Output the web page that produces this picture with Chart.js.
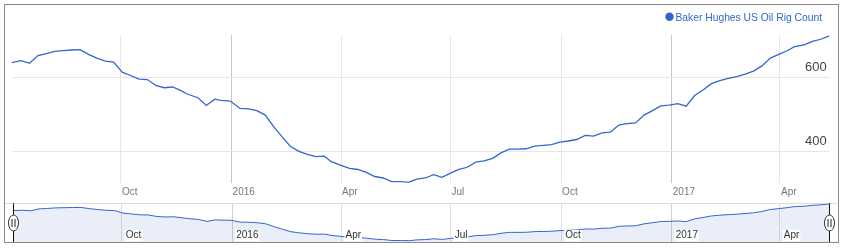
<!DOCTYPE html>
<html><head><meta charset="utf-8">
<script src="https://cdn.jsdelivr.net/npm/chart.js@4.4.1/dist/chart.umd.min.js"></script>
<style>
html,body{margin:0;padding:0;background:#fff;}
#wrap{position:relative;width:844px;height:248px;overflow:hidden;background:#fff;}
#frame{position:absolute;left:4px;top:4px;width:833px;height:237px;border:1px solid #8a8a8a;pointer-events:none;}
#main{position:absolute;left:0;top:0;}
#nav{position:absolute;left:0;top:200px;}
</style></head><body>
<div id="wrap">
<canvas id="main" width="844" height="200"></canvas>
<canvas id="nav" width="844" height="44"></canvas>
<div id="frame"></div>
</div>
<script>
// ---- data (weekly Baker Hughes US oil rig count) ----
const dates2015 = ['2015-07-02','2015-07-10','2015-07-17','2015-07-24','2015-07-31','2015-08-07','2015-08-14','2015-08-21','2015-08-28','2015-09-04','2015-09-11','2015-09-18','2015-09-25','2015-10-02','2015-10-09','2015-10-16','2015-10-23','2015-10-30','2015-11-06','2015-11-13','2015-11-20','2015-11-25','2015-12-04','2015-12-11','2015-12-18','2015-12-23','2015-12-31'];
const counts2015 = [640,645,638,659,664,670,672,674,675,662,652,644,641,614,605,595,594,578,572,574,564,555,545,524,541,538,536];
const dates2016 = ['2016-01-08','2016-01-15','2016-01-22','2016-01-29','2016-02-05','2016-02-12','2016-02-19','2016-02-26','2016-03-04','2016-03-11','2016-03-18','2016-03-24','2016-04-01','2016-04-08','2016-04-15','2016-04-22','2016-04-29','2016-05-06','2016-05-13','2016-05-20','2016-05-27','2016-06-03','2016-06-10','2016-06-17','2016-06-24','2016-07-01','2016-07-08','2016-07-15','2016-07-22','2016-07-29','2016-08-05','2016-08-12','2016-08-19','2016-08-26','2016-09-02','2016-09-09','2016-09-16','2016-09-23','2016-09-30','2016-10-07','2016-10-14','2016-10-21','2016-10-28','2016-11-04','2016-11-11','2016-11-18','2016-11-23','2016-12-02','2016-12-09','2016-12-16','2016-12-23','2016-12-30'];
const counts2016 = [516,515,510,498,467,439,413,400,392,386,387,372,362,354,351,343,332,328,318,318,316,325,328,337,330,341,351,357,371,374,381,396,406,406,407,414,416,418,425,428,432,443,441,450,452,471,474,477,498,510,523,525];
const dates2017 = ['2017-01-06','2017-01-13','2017-01-20','2017-01-27','2017-02-03','2017-02-10','2017-02-17','2017-02-24','2017-03-03','2017-03-10','2017-03-17','2017-03-24','2017-03-31','2017-04-07','2017-04-13','2017-04-21','2017-04-28','2017-05-05','2017-05-12'];
const counts2017 = [529,522,551,566,583,591,597,602,609,617,631,652,662,672,683,688,697,703,712];
const tickDates = ['2015-10-01','2016-01-01','2016-04-01','2016-07-01','2016-10-01','2017-01-01','2017-04-01'];
const tickLabels = ['Oct','2016','Apr','Jul','Oct','2017','Apr'];
const yTicks = [400, 600];
const seriesName = 'Baker Hughes US Oil Rig Count';

// ---- build ----
const dates = dates2015.concat(dates2016, dates2017);
const counts = counts2015.concat(counts2016, counts2017);
const dayNum = s => { const p = s.split('-').map(Number); return Date.UTC(p[0], p[1]-1, p[2]) / 864e5; };
const pts = dates.map((d, i) => ({x: dayNum(d), y: counts[i]}));
const xMin = dayNum(dates[0]), xMax = dayNum(dates[dates.length-1]);
const tickVals = tickDates.map(dayNum);
const isYear = tickLabels.map(l => /^\d{4}$/.test(l));
const FONT = '"Liberation Sans", Arial, sans-serif';
const LINE = '#3366cc';

const mainLabels = {
  id: 'mainLabels',
  afterDraw(chart) {
    const ctx = chart.ctx, xs = chart.scales.x, ys = chart.scales.y, a = chart.chartArea;
    ctx.save();
    // y labels
    ctx.font = '13px ' + FONT; ctx.fillStyle = '#444'; ctx.textAlign = 'right'; ctx.textBaseline = 'alphabetic';
    yTicks.forEach(v => ctx.fillText(String(v), a.right - 2.5, ys.getPixelForValue(v) - 6.5));
    // x labels
    ctx.font = '10px ' + FONT; ctx.fillStyle = '#777'; ctx.textAlign = 'left'; ctx.textBaseline = 'middle';
    tickVals.forEach((v, i) => ctx.fillText(tickLabels[i], xs.getPixelForValue(v) + 1, 192.5));
    // legend
    ctx.font = '10.3px ' + FONT; ctx.textAlign = 'right'; ctx.textBaseline = 'alphabetic'; ctx.fillStyle = LINE;
    const tw = ctx.measureText(seriesName).width;
    ctx.fillText(seriesName, 822, 20.7);
    ctx.beginPath(); ctx.arc(822 - tw - 6, 16.7, 4.2, 0, Math.PI*2); ctx.fill();
    ctx.restore();
  }
};

new Chart(document.getElementById('main'), {
  type: 'line',
  data: { datasets: [{ label: seriesName, data: pts, borderColor: LINE, borderWidth: 1.3, pointRadius: 0, tension: 0, fill: false }] },
  options: {
    responsive: false, animation: false, devicePixelRatio: 1,
    layout: { padding: { left: 11.5, right: 844 - 829.3, top: 35, bottom: 200 - 182.8 } },
    plugins: { legend: { display: false }, tooltip: { enabled: false } },
    scales: {
      x: { type: 'linear', min: xMin, max: xMax,
           afterBuildTicks: s => { s.ticks = tickVals.map(v => ({value: v})); },
           afterFit: s => { s.height = 0; },
           ticks: { display: false }, border: { display: false },
           grid: { drawTicks: false, lineWidth: 1, color: c => isYear[c.index] ? '#c8c8c8' : '#e6e6e6' } },
      y: { type: 'linear', min: 315, max: 714.5,
           afterBuildTicks: s => { s.ticks = yTicks.map(v => ({value: v})); },
           afterFit: s => { s.width = 0; },
           ticks: { display: false }, border: { display: false },
           grid: { drawTicks: false, lineWidth: 1, color: '#e6e6e6' } }
    }
  },
  plugins: [mainLabels]
});

const navDecor = {
  id: 'navDecor',
  beforeDraw(chart) {
    const ctx = chart.ctx;
    ctx.save();
    ctx.strokeStyle = '#dcdcdc'; ctx.lineWidth = 1;
    ctx.beginPath(); ctx.moveTo(5, 3.5); ctx.lineTo(838, 3.5); ctx.stroke();
    ctx.restore();
  },
  afterDraw(chart) {
    const ctx = chart.ctx, xs = chart.scales.x, a = chart.chartArea;
    ctx.save();
    ctx.font = '10px ' + FONT; ctx.textAlign = 'left'; ctx.textBaseline = 'middle';
    tickVals.forEach((v, i) => {
      const x = xs.getPixelForValue(v) + 4;
      const w = ctx.measureText(tickLabels[i]).width;
      ctx.fillStyle = '#fff'; ctx.fillRect(x - 1, 30, w + 2, 11);
      ctx.fillStyle = '#333'; ctx.fillText(tickLabels[i], x, 35.5);
    });
    // handles
    [xs.getPixelForValue(xMin), xs.getPixelForValue(xMax)].forEach(px => {
      const x = Math.round(px) + 0.5;
      ctx.strokeStyle = '#111'; ctx.lineWidth = 1;
      ctx.beginPath(); ctx.moveTo(x, a.top); ctx.lineTo(x, a.bottom); ctx.stroke();
      const cy = 23, w = 10, h = 16;
      ctx.beginPath();
      ctx.ellipse(x, cy, w/2, h/2, 0, 0, Math.PI*2);
      ctx.fillStyle = '#fff'; ctx.fill(); ctx.strokeStyle = '#333'; ctx.stroke();
      ctx.beginPath();
      ctx.moveTo(x - 1.5, cy - 4); ctx.lineTo(x - 1.5, cy + 4);
      ctx.moveTo(x + 1.5, cy - 4); ctx.lineTo(x + 1.5, cy + 4);
      ctx.strokeStyle = '#222'; ctx.stroke();
    });
    ctx.restore();
  }
};

new Chart(document.getElementById('nav'), {
  type: 'line',
  data: { datasets: [{ label: seriesName, data: pts, borderColor: LINE, borderWidth: 1, pointRadius: 0, tension: 0,
                       fill: 'start', backgroundColor: 'rgba(51,102,204,0.11)' }] },
  options: {
    responsive: false, animation: false, devicePixelRatio: 1,
    layout: { padding: { left: 12.5, right: 15, top: 3.3, bottom: 2 } },
    plugins: { legend: { display: false }, tooltip: { enabled: false } },
    scales: {
      x: { type: 'linear', min: xMin, max: xMax,
           afterBuildTicks: s => { s.ticks = tickVals.map(v => ({value: v})); },
           afterFit: s => { s.height = 0; },
           ticks: { display: false }, border: { display: false },
           grid: { drawTicks: false, lineWidth: 1, color: c => isYear[c.index] ? '#d0d0d0' : '#e0e0e0' } },
      y: { type: 'linear', min: 302, max: 719.5, display: false }
    }
  },
  plugins: [navDecor]
});
</script>
</body></html>
